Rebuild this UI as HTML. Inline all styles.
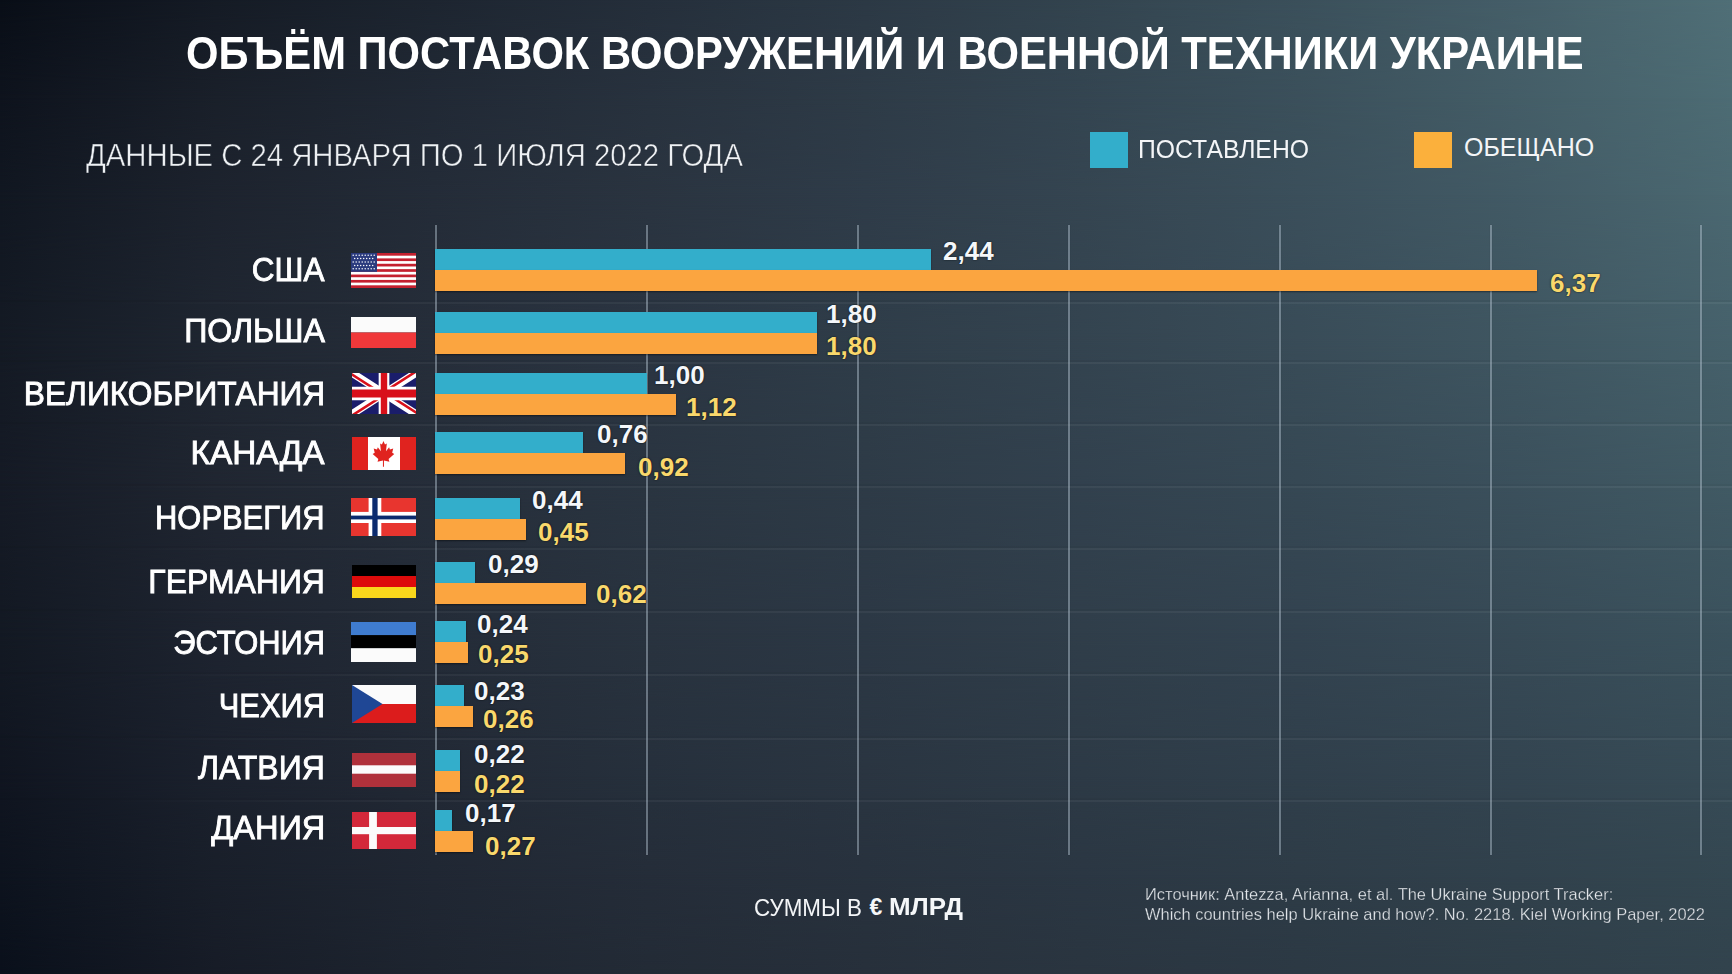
<!DOCTYPE html>
<html lang="ru">
<head>
<meta charset="utf-8">
<style>
*{margin:0;padding:0;box-sizing:border-box}
html,body{width:1732px;height:974px;overflow:hidden;background:#1b222c}
body{position:relative;font-family:"Liberation Sans",sans-serif;color:#fff}
.bg{position:absolute;left:0;top:0;width:1732px;height:974px}
#bg0{background:linear-gradient(to right,#090e17 0.00%,#151b25 12.50%,#1d2530 25.00%,#252f3b 37.50%,#2c3945 50.00%,#33444f 62.50%,#3b505b 75.00%,#455e68 87.50%,#506f77 100.00%);}
#bg1{background:linear-gradient(to right,#0e131d 0.00%,#1a202a 12.50%,#212935 25.00%,#28323e 37.50%,#2e3b47 50.00%,#344551 62.50%,#3b505b 75.00%,#445d67 87.50%,#4d6c74 100.00%);-webkit-mask-image:linear-gradient(to bottom,transparent 0.00%,#000 10.00%);mask-image:linear-gradient(to bottom,transparent 0.00%,#000 10.00%);}
#bg2{background:linear-gradient(to right,#111721 0.00%,#1d232e 12.50%,#242c38 25.00%,#2a3440 37.50%,#2f3c49 50.00%,#354551 62.50%,#3b4f5b 75.00%,#425a65 87.50%,#4b6871 100.00%);-webkit-mask-image:linear-gradient(to bottom,transparent 10.00%,#000 20.00%);mask-image:linear-gradient(to bottom,transparent 10.00%,#000 20.00%);}
#bg3{background:linear-gradient(to right,#141a24 0.00%,#1f2631 12.50%,#262e3a 25.00%,#2b3542 37.50%,#2f3d49 50.00%,#344450 62.50%,#394c58 75.00%,#3f5661 87.50%,#46616b 100.00%);-webkit-mask-image:linear-gradient(to bottom,transparent 20.00%,#000 35.00%);mask-image:linear-gradient(to bottom,transparent 20.00%,#000 35.00%);}
#bg4{background:linear-gradient(to right,#151a25 0.00%,#202631 12.50%,#262e3a 25.00%,#2a3541 37.50%,#2e3b47 50.00%,#32414e 62.50%,#364854 75.00%,#3b505c 87.50%,#415a64 100.00%);-webkit-mask-image:linear-gradient(to bottom,transparent 35.00%,#000 50.00%);mask-image:linear-gradient(to bottom,transparent 35.00%,#000 50.00%);}
#bg5{background:linear-gradient(to right,#131923 0.00%,#1e2430 12.50%,#242c38 25.00%,#29333f 37.50%,#2c3845 50.00%,#303e4a 62.50%,#334350 75.00%,#374a56 87.50%,#3b525d 100.00%);-webkit-mask-image:linear-gradient(to bottom,transparent 50.00%,#000 65.00%);mask-image:linear-gradient(to bottom,transparent 50.00%,#000 65.00%);}
#bg6{background:linear-gradient(to right,#101520 0.00%,#1b212d 12.50%,#222935 25.00%,#26303c 37.50%,#2a3541 50.00%,#2d3a46 62.50%,#303f4b 75.00%,#334450 87.50%,#374b56 100.00%);-webkit-mask-image:linear-gradient(to bottom,transparent 65.00%,#000 80.00%);mask-image:linear-gradient(to bottom,transparent 65.00%,#000 80.00%);}
#bg7{background:linear-gradient(to right,#0d131e 0.00%,#191f2a 12.50%,#202733 25.00%,#252d39 37.50%,#28323e 50.00%,#2b3743 62.50%,#2e3c47 75.00%,#31414c 87.50%,#344751 100.00%);-webkit-mask-image:linear-gradient(to bottom,transparent 80.00%,#000 90.00%);mask-image:linear-gradient(to bottom,transparent 80.00%,#000 90.00%);}
#bg8{background:linear-gradient(to right,#0a101b 0.00%,#171c27 12.50%,#1e2530 25.00%,#232b36 37.50%,#27303b 50.00%,#2a3540 62.50%,#2c3944 75.00%,#2f3e48 87.50%,#32434d 100.00%);-webkit-mask-image:linear-gradient(to bottom,transparent 90.00%,#000 100.00%);mask-image:linear-gradient(to bottom,transparent 90.00%,#000 100.00%);}
.abs{position:absolute;white-space:nowrap}
#title{left:186px;top:28px;font-size:46px;font-weight:bold;line-height:50px;color:#fff;transform:scaleX(0.908);transform-origin:0 0}
#sub{left:86px;top:138px;font-size:32px;line-height:34px;color:#eef1f4;-webkit-text-stroke:0.6px rgba(24,31,41,0.85);transform:scaleX(0.915);transform-origin:0 0}
.lg{position:absolute;width:38px;height:36px}
.lgt{position:absolute;font-size:25px;line-height:28px;color:#f3f5f7;white-space:nowrap}
.grid{position:absolute;top:225px;height:630px;width:2px;background:rgba(185,200,212,0.45);box-shadow:0 0 1px rgba(0,0,0,0.25)}
.sep{position:absolute;left:0;width:1732px;height:2px;background:linear-gradient(to right,rgba(255,255,255,0) 6%,rgba(255,255,255,0.045) 25%,rgba(255,255,255,0.05) 100%);box-shadow:0 -2px 1px rgba(0,0,0,0.035)}
.bar{position:absolute;left:435px;height:21px;box-shadow:0 1px 1.5px rgba(0,0,0,0.45)}
.c{background:#33aecb}
.o{background:#fba540}
.cl{position:absolute;right:1407.2px;font-size:34px;line-height:36px;color:#fff;white-space:nowrap;text-align:right;-webkit-text-stroke:0.9px #fff;transform-origin:100% 0}
.v{position:absolute;font-size:26px;font-weight:bold;line-height:30px;white-space:nowrap;text-shadow:0 0 2px rgba(5,8,12,0.6),0 0 1px rgba(5,8,12,0.5)}
.vw{color:#f4f7fa}
.vy{color:#f9d86c}
.flag{position:absolute;left:351px;width:65px;overflow:hidden}
#units{left:754px;top:895px;font-size:23px;line-height:26px;color:#f3f5f7;transform:scaleX(0.974);transform-origin:0 0}
#eur{left:869.5px;top:894px;font-size:23px;font-weight:bold;line-height:26px;color:#f5f7f9}
#mlrd{left:889px;top:894px;font-size:24px;font-weight:bold;line-height:26px;color:#f5f7f9;transform:scaleX(1.08);transform-origin:0 0}
#src{left:1145px;top:885px;font-size:17px;line-height:19.8px;color:#e4e8ec;-webkit-text-stroke:0.35px rgba(40,52,62,0.8);transform:scaleX(0.967);transform-origin:0 0}
</style>
</head>
<body>
<div class="bg" id="bg0"></div><div class="bg" id="bg1"></div><div class="bg" id="bg2"></div><div class="bg" id="bg3"></div><div class="bg" id="bg4"></div><div class="bg" id="bg5"></div><div class="bg" id="bg6"></div><div class="bg" id="bg7"></div><div class="bg" id="bg8"></div>
<div class="abs" id="title">ОБЪЁМ ПОСТАВОК ВООРУЖЕНИЙ И ВОЕННОЙ ТЕХНИКИ УКРАИНЕ</div>
<div class="abs" id="sub">ДАННЫЕ С 24 ЯНВАРЯ ПО 1 ИЮЛЯ 2022 ГОДА</div>
<div class="lg c" style="left:1090px;top:132px"></div>
<div class="lgt" style="left:1138px;top:135px;transform:scaleX(0.99);transform-origin:0 0">ПОСТАВЛЕНО</div>
<div class="lg o" style="left:1414px;top:132px;background:#fbb03c"></div>
<div class="lgt" style="left:1464px;top:132.5px">ОБЕЩАНО</div>
<div class="sep" style="top:302px"></div>
<div class="sep" style="top:362px"></div>
<div class="sep" style="top:424px"></div>
<div class="sep" style="top:486px"></div>
<div class="sep" style="top:548px"></div>
<div class="sep" style="top:611px"></div>
<div class="sep" style="top:674px"></div>
<div class="sep" style="top:738px"></div>
<div class="sep" style="top:800px"></div>
<div class="grid" style="left:435px"></div>
<div class="grid" style="left:646px"></div>
<div class="grid" style="left:857px"></div>
<div class="grid" style="left:1068px"></div>
<div class="grid" style="left:1279px"></div>
<div class="grid" style="left:1490px"></div>
<div class="grid" style="left:1700px"></div>
<div class="bar c" style="top:249px;width:496px"></div>
<div class="bar o" style="top:270px;width:1102px"></div>
<div class="bar c" style="top:312px;width:382px"></div>
<div class="bar o" style="top:333px;width:382px"></div>
<div class="bar c" style="top:373px;width:212px"></div>
<div class="bar o" style="top:394px;width:241px"></div>
<div class="bar c" style="top:432px;width:148px"></div>
<div class="bar o" style="top:453px;width:190px"></div>
<div class="bar c" style="top:498px;width:85px"></div>
<div class="bar o" style="top:519px;width:91px"></div>
<div class="bar c" style="top:562px;width:40px"></div>
<div class="bar o" style="top:583px;width:151px"></div>
<div class="bar c" style="top:621px;width:31px"></div>
<div class="bar o" style="top:642px;width:33px"></div>
<div class="bar c" style="top:685px;width:29px"></div>
<div class="bar o" style="top:706px;width:38px"></div>
<div class="bar c" style="top:750px;width:25px"></div>
<div class="bar o" style="top:771px;width:25px"></div>
<div class="bar c" style="top:810px;width:17px"></div>
<div class="bar o" style="top:831px;width:38px"></div>
<div class="cl" style="top:251px;transform:scaleX(0.9264)">США</div>
<div class="cl" style="top:312px;transform:scaleX(0.9452)">ПОЛЬША</div>
<div class="cl" style="top:375px;transform:scaleX(0.9326)">ВЕЛИКОБРИТАНИЯ</div>
<div class="cl" style="top:434px;transform:scaleX(0.9815)">КАНАДА</div>
<div class="cl" style="top:499px;transform:scaleX(0.9085)">НОРВЕГИЯ</div>
<div class="cl" style="top:563px;transform:scaleX(0.9396)">ГЕРМАНИЯ</div>
<div class="cl" style="top:624px;transform:scaleX(0.909)">ЭСТОНИЯ</div>
<div class="cl" style="top:687px;transform:scaleX(0.9077)">ЧЕХИЯ</div>
<div class="cl" style="top:749px;transform:scaleX(0.9411)">ЛАТВИЯ</div>
<div class="cl" style="top:809px;transform:scaleX(0.9567)">ДАНИЯ</div>
<div class="v vw" style="left:943px;top:236px">2,44</div>
<div class="v vy" style="left:1550px;top:268px">6,37</div>
<div class="v vw" style="left:826px;top:299px">1,80</div>
<div class="v vy" style="left:826px;top:331px">1,80</div>
<div class="v vw" style="left:654px;top:360px">1,00</div>
<div class="v vy" style="left:686px;top:392px">1,12</div>
<div class="v vw" style="left:597px;top:419px">0,76</div>
<div class="v vy" style="left:638px;top:452px">0,92</div>
<div class="v vw" style="left:532px;top:485px">0,44</div>
<div class="v vy" style="left:538px;top:517px">0,45</div>
<div class="v vw" style="left:488px;top:549px">0,29</div>
<div class="v vy" style="left:596px;top:579px">0,62</div>
<div class="v vw" style="left:477px;top:609px">0,24</div>
<div class="v vy" style="left:478px;top:639px">0,25</div>
<div class="v vw" style="left:474px;top:676px">0,23</div>
<div class="v vy" style="left:483px;top:704px">0,26</div>
<div class="v vw" style="left:474px;top:739px">0,22</div>
<div class="v vy" style="left:474px;top:769px">0,22</div>
<div class="v vw" style="left:465px;top:798px">0,17</div>
<div class="v vy" style="left:485px;top:831px">0,27</div>
<svg class="flag" style="top:253px;height:35px" viewBox="0 0 65 35" preserveAspectRatio="none"><rect width="65" height="35" fill="#fff"/><rect x="0" y="0.000" width="65" height="2.692" fill="#c4202f"/><rect x="0" y="5.385" width="65" height="2.692" fill="#c4202f"/><rect x="0" y="10.769" width="65" height="2.692" fill="#c4202f"/><rect x="0" y="16.154" width="65" height="2.692" fill="#c4202f"/><rect x="0" y="21.538" width="65" height="2.692" fill="#c4202f"/><rect x="0" y="26.923" width="65" height="2.692" fill="#c4202f"/><rect x="0" y="32.308" width="65" height="2.692" fill="#c4202f"/><rect width="26" height="18.846" fill="#2b3b7e"/><circle cx="2.20" cy="2.20" r="0.75" fill="#fff"/><circle cx="5.20" cy="2.20" r="0.75" fill="#fff"/><circle cx="8.20" cy="2.20" r="0.75" fill="#fff"/><circle cx="11.20" cy="2.20" r="0.75" fill="#fff"/><circle cx="14.20" cy="2.20" r="0.75" fill="#fff"/><circle cx="17.20" cy="2.20" r="0.75" fill="#fff"/><circle cx="20.20" cy="2.20" r="0.75" fill="#fff"/><circle cx="23.20" cy="2.20" r="0.75" fill="#fff"/><circle cx="3.70" cy="5.60" r="0.75" fill="#fff"/><circle cx="6.70" cy="5.60" r="0.75" fill="#fff"/><circle cx="9.70" cy="5.60" r="0.75" fill="#fff"/><circle cx="12.70" cy="5.60" r="0.75" fill="#fff"/><circle cx="15.70" cy="5.60" r="0.75" fill="#fff"/><circle cx="18.70" cy="5.60" r="0.75" fill="#fff"/><circle cx="21.70" cy="5.60" r="0.75" fill="#fff"/><circle cx="2.20" cy="9.00" r="0.75" fill="#fff"/><circle cx="5.20" cy="9.00" r="0.75" fill="#fff"/><circle cx="8.20" cy="9.00" r="0.75" fill="#fff"/><circle cx="11.20" cy="9.00" r="0.75" fill="#fff"/><circle cx="14.20" cy="9.00" r="0.75" fill="#fff"/><circle cx="17.20" cy="9.00" r="0.75" fill="#fff"/><circle cx="20.20" cy="9.00" r="0.75" fill="#fff"/><circle cx="23.20" cy="9.00" r="0.75" fill="#fff"/><circle cx="3.70" cy="12.40" r="0.75" fill="#fff"/><circle cx="6.70" cy="12.40" r="0.75" fill="#fff"/><circle cx="9.70" cy="12.40" r="0.75" fill="#fff"/><circle cx="12.70" cy="12.40" r="0.75" fill="#fff"/><circle cx="15.70" cy="12.40" r="0.75" fill="#fff"/><circle cx="18.70" cy="12.40" r="0.75" fill="#fff"/><circle cx="21.70" cy="12.40" r="0.75" fill="#fff"/><circle cx="2.20" cy="15.80" r="0.75" fill="#fff"/><circle cx="5.20" cy="15.80" r="0.75" fill="#fff"/><circle cx="8.20" cy="15.80" r="0.75" fill="#fff"/><circle cx="11.20" cy="15.80" r="0.75" fill="#fff"/><circle cx="14.20" cy="15.80" r="0.75" fill="#fff"/><circle cx="17.20" cy="15.80" r="0.75" fill="#fff"/><circle cx="20.20" cy="15.80" r="0.75" fill="#fff"/><circle cx="23.20" cy="15.80" r="0.75" fill="#fff"/></svg>
<svg class="flag" style="top:317px;height:31px" viewBox="0 0 65 31" preserveAspectRatio="none"><rect width="65" height="15.5" fill="#fbfbfb"/><rect y="15.5" width="65" height="15.5" fill="#f0383a"/></svg>
<svg class="flag" style="left:352px;width:64px;top:373px;height:41px" viewBox="0 0 60 30" preserveAspectRatio="none"><clipPath id="ukc"><path d="M30,15 h30 v15 z v15 h-30 z h-30 v-15 z v-15 h30 z"/></clipPath><rect width="60" height="30" fill="#1a1d6b"/><path d="M0,0 L60,30 M60,0 L0,30" stroke="#fff" stroke-width="6"/><path d="M0,0 L60,30 M60,0 L0,30" clip-path="url(#ukc)" stroke="#d8101a" stroke-width="4"/><path d="M30,0 v30 M0,15 h60" stroke="#fff" stroke-width="10"/><path d="M30,0 v30 M0,15 h60" stroke="#d8101a" stroke-width="6"/></svg>
<svg class="flag" style="left:352px;width:64px;top:437px;height:33px" viewBox="0 0 64 33" preserveAspectRatio="none"><rect width="64" height="33" fill="#fff"/><rect width="16" height="33" fill="#e0231f"/><rect x="48" width="16" height="33" fill="#e0231f"/><g transform="translate(18.6,3.4) scale(0.257,0.3)"><polygon points="50,2 56,14 63,10 60,36 72,23 75,30 88,27 84,41 92,45 70,62 73,71 52,67 52,88 48,88 48,67 27,71 30,62 8,45 16,41 12,27 25,30 28,23 40,36 37,10 44,14" fill="#e0231f"/></g></svg>
<svg class="flag" style="top:498px;height:38px" viewBox="0 0 65 38" preserveAspectRatio="none"><rect width="65" height="38" fill="#e8352f"/><rect x="17.6" width="12.7" height="38" fill="#fff"/><rect y="13.9" width="65" height="11.1" fill="#fff"/><rect x="21.3" width="5.3" height="38" fill="#0b2b6e"/><rect y="17.6" width="65" height="3.8" fill="#0b2b6e"/></svg>
<svg class="flag" style="left:352px;width:64px;top:565px;height:33px" viewBox="0 0 64 33" preserveAspectRatio="none"><rect width="64" height="11" fill="#000"/><rect y="11" width="64" height="11" fill="#dd0b0b"/><rect y="22" width="64" height="11" fill="#f9d71c"/></svg>
<svg class="flag" style="top:622px;height:40px" viewBox="0 0 65 40" preserveAspectRatio="none"><rect width="65" height="13.2" fill="#3f7cd0"/><rect y="13.2" width="65" height="13" fill="#000"/><rect y="26.2" width="65" height="13.8" fill="#fbfbfb"/></svg>
<svg class="flag" style="left:352px;width:64px;top:685px;height:38px" viewBox="0 0 64 38" preserveAspectRatio="none"><rect width="64" height="19" fill="#fbfbfb"/><rect y="19" width="64" height="19" fill="#dc1c1c"/><polygon points="0,0 30.5,19 0,38" fill="#1f4795"/></svg>
<svg class="flag" style="left:352px;width:64px;top:753px;height:34px" viewBox="0 0 64 34" preserveAspectRatio="none"><rect width="64" height="34" fill="#b0313b"/><rect y="12.3" width="64" height="8.4" fill="#fbfbfb"/></svg>
<svg class="flag" style="left:352px;width:64px;top:812px;height:37px" viewBox="0 0 64 37" preserveAspectRatio="none"><rect width="64" height="37" fill="#d3283a"/><rect x="17.1" width="7.8" height="37" fill="#fbfbfb"/><rect y="15" width="64" height="7.2" fill="#fbfbfb"/></svg>
<div class="abs" id="units">СУММЫ В</div><div class="abs" id="eur">€</div><div class="abs" id="mlrd">МЛРД</div>
<div class="abs" id="src">Источник: Antezza, Arianna, et al. The Ukraine Support Tracker:<br>Which countries help Ukraine and how?. No. 2218. Kiel Working Paper, 2022</div>
</body>
</html>
